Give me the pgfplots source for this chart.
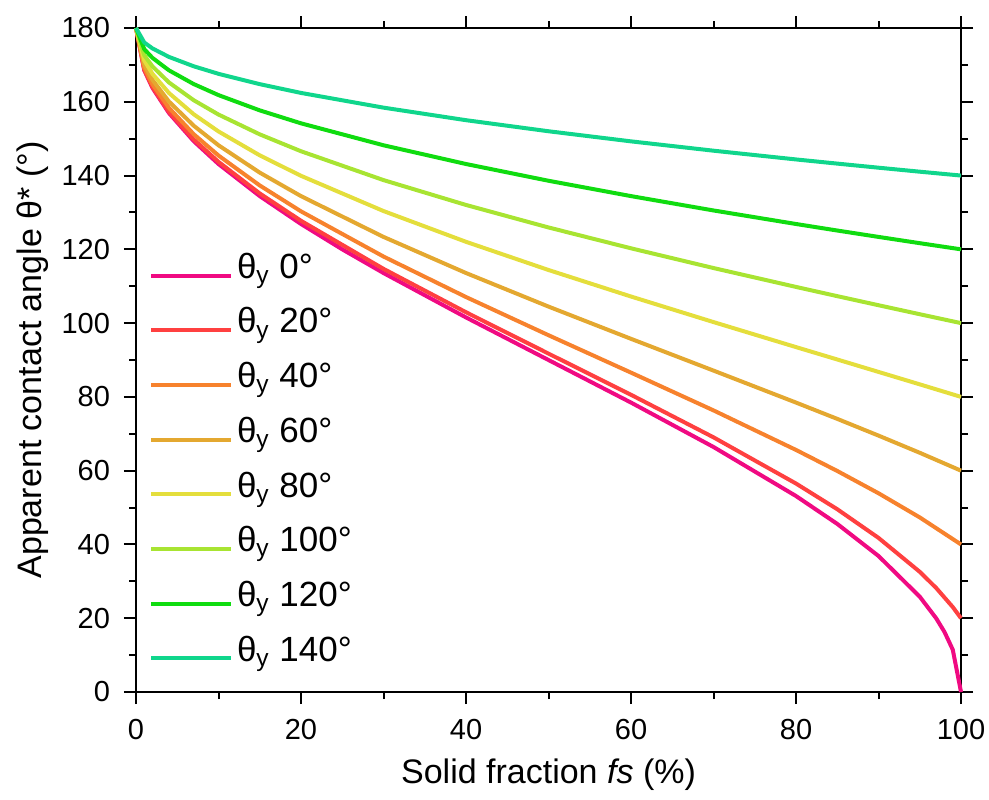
\documentclass[border=0pt]{standalone}
\usepackage{pgfplots}
\pgfplotsset{compat=1.18}
\usepackage{pgfplotstable}
\usepackage{fontspec}
\setmainfont{Liberation Sans}
\definecolor{c0}{RGB}{240,10,130}
\definecolor{c20}{RGB}{255,64,64}
\definecolor{c40}{RGB}{247,130,45}
\definecolor{c60}{RGB}{228,168,48}
\definecolor{c80}{RGB}{228,222,60}
\definecolor{c100}{RGB}{168,228,50}
\definecolor{c120}{RGB}{16,220,16}
\definecolor{c140}{RGB}{16,214,140}
\pgfplotstableread{
f t
0 180
1 168.52
2 163.74
4 156.93
7 149.32
10 143.13
15 134.43
20 126.87
25 120.00
30 113.58
40 101.54
50 90.00
60 78.46
70 66.42
80 53.13
85 45.57
90 36.87
95 25.84
97 19.95
98 16.26
99 11.48
100 0
}\tzero
\pgfplotstableread{
f t
0 180
1 168.70
2 163.99
4 157.28
7 149.79
10 143.71
15 135.15
20 127.74
30 114.71
40 102.95
50 91.73
60 80.57
70 69.04
80 56.51
85 49.55
90 41.78
95 32.58
97 28.18
99 23.03
100 20
}\ttwenty
\pgfplotstableread{
f t
0 180
1 169.22
2 164.73
4 158.34
7 151.21
10 145.43
15 137.32
20 130.30
30 118.05
40 107.07
50 96.72
60 86.58
70 76.34
80 65.62
85 59.92
90 53.88
95 47.33
100 40
}\tforty
\pgfplotstableread{
f t
0 180
1 170.06
2 165.93
4 160.05
7 153.51
10 148.21
15 140.80
20 134.43
30 123.37
40 113.58
50 104.48
60 95.74
70 87.13
80 78.46
85 74.04
90 69.51
95 64.85
100 60
}\tsixty
\pgfplotstableread{
f t
0 180
1 171.21
2 167.56
4 162.37
7 156.61
10 151.96
15 145.48
20 139.93
30 130.38
40 122.04
50 114.40
60 107.21
70 100.28
80 93.50
85 90.14
90 86.77
95 83.40
100 80
}\teighty
\pgfplotstableread{
f t
0 180
1 172.63
2 169.57
4 165.23
7 160.42
10 156.54
15 151.17
20 146.59
30 138.77
40 132.03
50 125.93
60 120.28
70 114.93
80 109.81
85 107.31
90 104.85
95 102.41
100 100
}\thundred
\pgfplotstableread{
f t
0 180
1 174.27
2 171.89
4 168.52
7 164.80
10 161.81
15 157.67
20 154.16
30 148.21
40 143.13
50 138.59
60 134.43
70 130.54
80 126.87
85 125.10
90 123.37
95 121.67
100 120
}\tonetwenty
\pgfplotstableread{
f t
0 180
1 176.08
2 174.46
4 172.16
7 169.62
10 167.58
15 164.78
20 162.40
30 158.41
40 155.01
50 152.01
60 149.27
70 146.74
80 144.37
85 143.24
90 142.13
95 141.05
100 140
}\tonefourty
\begin{document}
\begin{tikzpicture}
\begin{axis}[
  name=ax,
  scale only axis,
  width=412.5pt, height=332pt,
  xmin=0, xmax=100, ymin=0, ymax=180,
  xtick={0,20,...,100}, ytick={0,20,...,180},
  minor x tick num=1, minor y tick num=1,
  tick align=outside,
  major tick length=6pt, minor tick length=3.5pt,
  every tick/.style={black, line width=1pt},
  axis line style={line width=1pt},
  /pgf/number format/assume math mode=true,
  tick label style={font=\fontsize{14.5}{16}\selectfont},
  yticklabel style={xshift=-3.5pt},
  xticklabel style={yshift=-4pt},
  label style={font=\fontsize{17}{20}\selectfont},
  xlabel={Solid fraction \textit{fs} (\%)},
  ylabel={Apparent contact angle θ* (°)},
  xlabel style={at={(axis description cs:0.5,0)}, anchor=center, yshift=-41.5pt},
  ylabel style={at={(axis description cs:0,0.5)}, anchor=center, yshift=51.5pt},
  clip=false,
  legend cell align=left,
  legend style={draw=none, fill=none, at={(axis cs:0.8,121.5)}, anchor=north west,
    font=\fontsize{17.5}{20}\selectfont, row sep=0pt,
    nodes={inner sep=2pt, text height=13pt, text depth=10.35pt}},
  legend image code/.code={\draw[#1] (0pt,0pt) -- (40pt,0pt);},
  every axis plot/.append style={line width=2pt, line join=round},
]
\addplot[c0] table[x=f,y=t]{\tzero};
\addlegendentry{θ\textsubscript{y} 0°}
\addplot[c20] table[x=f,y=t]{\ttwenty};
\addlegendentry{θ\textsubscript{y} 20°}
\addplot[c40] table[x=f,y=t]{\tforty};
\addlegendentry{θ\textsubscript{y} 40°}
\addplot[c60] table[x=f,y=t]{\tsixty};
\addlegendentry{θ\textsubscript{y} 60°}
\addplot[c80] table[x=f,y=t]{\teighty};
\addlegendentry{θ\textsubscript{y} 80°}
\addplot[c100] table[x=f,y=t]{\thundred};
\addlegendentry{θ\textsubscript{y} 100°}
\addplot[c120] table[x=f,y=t]{\tonetwenty};
\addlegendentry{θ\textsubscript{y} 120°}
\addplot[c140] table[x=f,y=t]{\tonefourty};
\addlegendentry{θ\textsubscript{y} 140°}
\end{axis}
\pgfresetboundingbox
\path (ax.south west) ++(-68pt,-53.5pt) coordinate (bbA);
\path (ax.north east) ++(14pt,14pt) coordinate (bbB);
\useasboundingbox (bbA) rectangle (bbB);
\end{tikzpicture}
\end{document}
